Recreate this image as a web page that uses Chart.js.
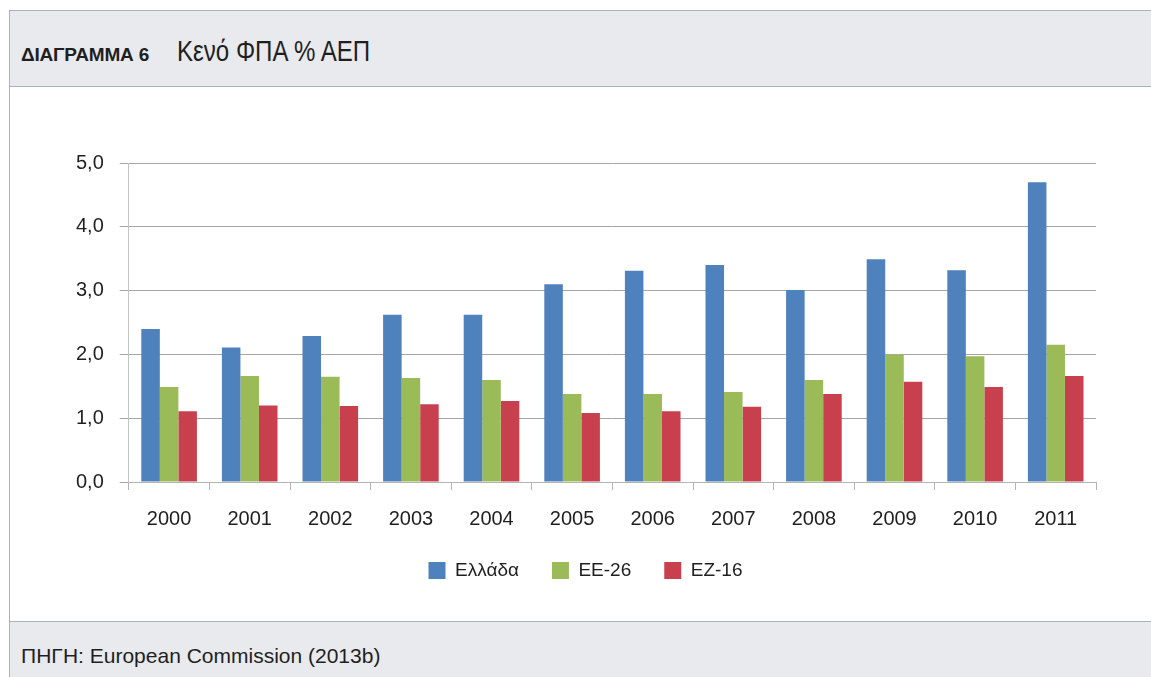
<!DOCTYPE html>
<html>
<head>
<meta charset="utf-8">
<script src="https://cdn.jsdelivr.net/npm/chart.js@4.4.1/dist/chart.umd.min.js"></script>
<style>
  html, body { margin: 0; padding: 0; background: #fff; }
  body { width: 1151px; height: 677px; position: relative; overflow: hidden; font-family: "Liberation Sans", Arial, sans-serif; color: #1f1f1f; }
  .frame { position: absolute; left: 9px; top: 10px; right: -2px; bottom: -2px; border: 1px solid #a9b2c1; }
  .header { position: absolute; left: 10px; top: 11px; width: 1141px; height: 75px; background: #e9eaee; border-bottom: 1px solid #a9b2c1; }
  .header .tag { position: absolute; left: 11px; top: 33px; font-weight: bold; font-size: 19px; letter-spacing: -0.2px; }
  .header .title { position: absolute; left: 167px; top: 24px; font-size: 29px; transform: scaleX(0.83); transform-origin: left center; white-space: nowrap; }
  .footer { position: absolute; left: 10px; top: 621px; width: 1141px; height: 56px; background: #e9eaee; border-top: 1px solid #a9b2c1; }
  .footer .src { position: absolute; left: 11px; top: 22px; font-size: 21px; }
  .chart-box { position: absolute; left: 10px; top: 88px; width: 1141px; height: 533px; }
</style>
</head>
<body>
<div class="frame"></div>
<div class="header"><span class="tag">ΔΙΑΓΡΑΜΜΑ 6</span><span class="title">Κενό ΦΠΑ % ΑΕΠ</span></div>
<div class="chart-box"><canvas id="chart-vat-gap"></canvas></div>
<div class="footer"><span class="src">ΠΗΓΗ: European Commission (2013b)</span></div>
<script>
const YEARS = ['2000', '2001', '2002', '2003', '2004', '2005', '2006', '2007', '2008', '2009', '2010', '2011'];
const GREECE = [2.40, 2.11, 2.29, 2.62, 2.62, 3.10, 3.31, 3.40, 3.01, 3.49, 3.32, 4.70];
const EU26 = [1.49, 1.66, 1.65, 1.63, 1.60, 1.38, 1.38, 1.41, 1.60, 2.00, 1.97, 2.15];
const EZ16 = [1.11, 1.20, 1.19, 1.22, 1.27, 1.08, 1.11, 1.18, 1.38, 1.57, 1.49, 1.66];

const COLORS = {
    greece: '#4f81bd',
    eu: '#9bbb59',
    ez: '#c8404e'
};

const FONT = "'Liberation Sans', Arial, sans-serif";

function initVatGap() {
    const ctx = document.getElementById('chart-vat-gap');
    if (!ctx) return;
    new Chart(ctx, {
        type: 'bar',
        data: {
            labels: YEARS,
            datasets: [
                { label: 'Ελλάδα', data: GREECE, backgroundColor: COLORS.greece },
                { label: 'ΕΕ-26', data: EU26, backgroundColor: COLORS.eu },
                { label: 'ΕΖ-16', data: EZ16, backgroundColor: COLORS.ez }
            ]
        },
        options: {
            responsive: true,
            maintainAspectRatio: false,
            animation: false,
            datasets: { bar: { barPercentage: 1, categoryPercentage: 0.69 } },
            layout: { padding: { left: 65, right: 55, top: 75, bottom: 31 } },
            scales: {
                x: {
                    grid: { drawOnChartArea: false, drawTicks: true, tickLength: 8, color: '#b4b4b4', offset: true },
                    border: { color: '#b4b4b4' },
                    ticks: { color: '#1f1f1f', font: { family: FONT, size: 20 }, padding: 17 },
                    afterFit: scale => { scale.height -= 20; }
                },
                y: {
                    min: 0,
                    max: 5,
                    grid: { color: '#a6a6a6', tickLength: 9 },
                    border: { color: '#c4c4c4' },
                    ticks: {
                        stepSize: 1,
                        color: '#1f1f1f',
                        font: { family: FONT, size: 20 },
                        padding: 16,
                        callback: v => v.toFixed(1).replace('.', ',')
                    },
                    afterFit: scale => { scale.width -= 15; }
                }
            },
            plugins: {
                legend: {
                    position: 'bottom',
                    labels: { boxWidth: 17, boxHeight: 17, padding: 33, color: '#1f1f1f', font: { family: FONT, size: 19 } }
                },
                tooltip: { enabled: false }
            }
        }
    });
}

initVatGap();
</script>
</body>
</html>
